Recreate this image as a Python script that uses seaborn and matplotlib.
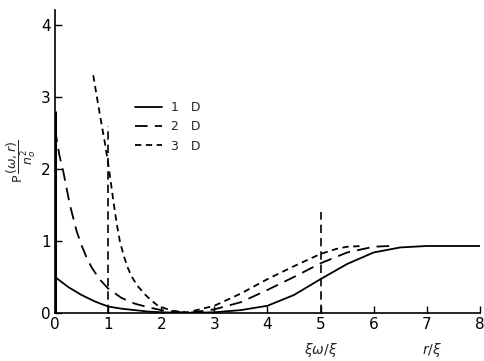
import matplotlib
matplotlib.use('Agg')
import matplotlib.pyplot as plt
import seaborn as sns

# curves
x_1d = [0, 0.25, 0.5, 0.75, 1.0, 1.25, 1.5, 1.75, 2.0, 2.5, 3.0, 3.5, 4.0, 4.5, 5.0, 5.5, 6.0, 6.5, 7.0, 8.0]
y_1d = [0.5, 0.36, 0.25, 0.16, 0.09, 0.06, 0.04, 0.02, 0.01, 0.0, 0.01, 0.04, 0.1, 0.25, 0.47, 0.68, 0.84, 0.91, 0.93, 0.93]

x_2d = [0, 0.08, 0.16, 0.28, 0.41, 0.5, 0.6, 0.7, 0.85, 1.0, 1.25, 1.5, 1.75, 2.0, 2.5, 3.0, 3.5, 4.0, 4.5, 5.0, 5.5, 6.0, 6.3]
y_2d = [2.55, 2.2, 1.95, 1.5, 1.13, 0.94, 0.76, 0.62, 0.46, 0.34, 0.21, 0.13, 0.08, 0.04, 0.0, 0.05, 0.15, 0.32, 0.5, 0.69, 0.84, 0.92, 0.93]

x_3d = [0.72, 0.8, 0.87, 0.94, 1.0, 1.05, 1.1, 1.16, 1.22, 1.3, 1.37, 1.44, 1.55, 1.69, 1.82, 1.94, 2.2, 2.5, 3.0, 3.5, 4.0, 4.5, 5.0, 5.3, 5.5, 5.8]
y_3d = [3.3, 2.95, 2.65, 2.36, 2.08, 1.82, 1.55, 1.25, 1.0, 0.78, 0.63, 0.51, 0.38, 0.26, 0.17, 0.1, 0.03, 0.01, 0.1, 0.27, 0.47, 0.65, 0.82, 0.89, 0.92, 0.93]

vline_x = [1, 5]
vline_top = [2.6, 1.4]

labels = ['1   D', '2   D', '3   D']
x_ticks = [0, 1, 2, 3, 4, 5, 6, 7, 8]
y_ticks = [0, 1, 2, 3, 4]

sns.set_style('ticks')
plt.rcParams['font.family'] = ['DejaVu Sans']

fig = plt.figure(figsize=(4.85, 3.61), dpi=100)
ax = fig.add_axes([0.1134, 0.133, 0.876, 0.838])

sns.lineplot(x=x_1d, y=y_1d, ax=ax, color='black', lw=1.3, label=labels[0], sort=False)
sns.lineplot(x=x_2d, y=y_2d, ax=ax, color='black', lw=1.3, linestyle=(0, (7, 4)), label=labels[1], sort=False)
sns.lineplot(x=x_3d, y=y_3d, ax=ax, color='black', lw=1.3, linestyle=(0, (3.5, 2.5)), label=labels[2], sort=False)

ax.vlines(vline_x, 0, vline_top, colors='black', lw=1.2, linestyles=(0, (5, 3)))
ax.vlines([0], 0, [2.8], colors='black', lw=2.2)

ax.set_xlim(0, 8)
ax.set_ylim(0, 4.2)
ax.set_xticks(x_ticks)
ax.set_yticks(y_ticks)
ax.tick_params(direction='in', length=5, width=1, labelsize=11, colors='black', pad=3)
sns.despine(ax=ax)
for s in ['left', 'bottom']:
    ax.spines[s].set_linewidth(1.2)
    ax.spines[s].set_color('black')

ax.set_xlabel('')
ax.set_ylabel(r'P$\,\dfrac{(\omega,r)}{n_o^2}$', fontsize=9, labelpad=2)

ax.text(5, -0.122, r'$\xi\omega/\xi$', transform=ax.get_xaxis_transform(),
        ha='center', va='center', fontsize=10)
ax.text(7.1, -0.122, r'$r/\xi$', transform=ax.get_xaxis_transform(),
        ha='center', va='center', fontsize=10)

ax.legend(loc='upper left', bbox_to_anchor=(0.188, 0.70), frameon=False,
          fontsize=9, handlelength=2.2, handletextpad=0.7, borderpad=0,
          borderaxespad=0, labelspacing=0.5)

fig.savefig('out.png', dpi=100)
